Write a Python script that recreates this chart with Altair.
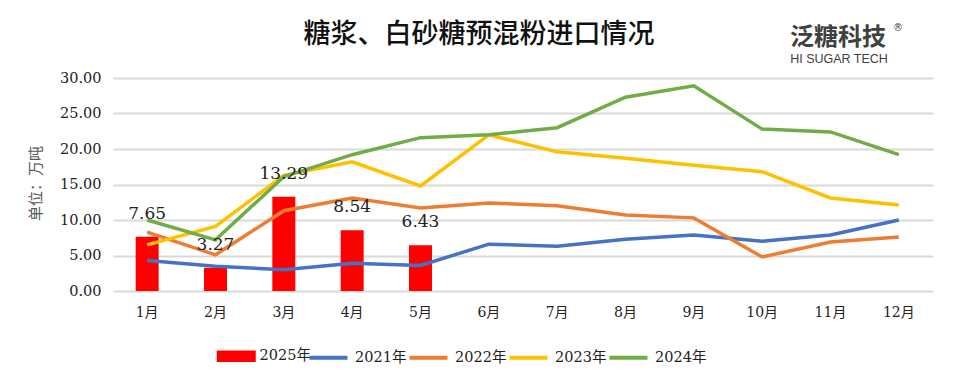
import altair as alt
import pandas as pd

months = ["1月", "2月", "3月", "4月", "5月", "6月", "7月", "8月", "9月", "10月", "11月", "12月"]
bar_series = "2025年"
bar_values = [7.65, 3.27, 13.29, 8.54, 6.43]
line_series = ["2021年", "2022年", "2023年", "2024年"]
v2021 = [4.3, 3.5, 3.0, 3.9, 3.6, 6.6, 6.3, 7.3, 7.9, 7.0, 7.9, 10.0]
v2022 = [8.3, 5.1, 11.3, 13.1, 11.7, 12.4, 12.0, 10.7, 10.3, 4.8, 6.9, 7.6]
v2023 = [6.5, 9.1, 16.3, 18.2, 14.8, 22.0, 19.6, 18.7, 17.7, 16.8, 13.1, 12.1]
v2024 = [10.0, 7.2, 16.1, 19.2, 21.6, 22.0, 23.0, 27.3, 28.9, 22.8, 22.4, 19.2]
line_colors = ["#4472C4", "#ED7D31", "#FFC000", "#70AD47"]
y_ticks = [0, 5, 10, 15, 20, 25, 30]
title_text = "糖浆、白砂糖预混粉进口情况"
logo_cn = "泛糖科技"
logo_en = "HI SUGAR TECH"
y_title = "单位：万吨"

W, H = 820, 213
SERIF = "'DejaVu Serif', 'Noto Sans CJK SC', serif"

bar_df = pd.DataFrame({"month": months[:len(bar_values)], "value": bar_values,
                       "series": [bar_series] * len(bar_values)})
rows = []
for name, vals in zip(line_series, [v2021, v2022, v2023, v2024]):
    for m, v in zip(months, vals):
        rows.append({"month": m, "value": v, "series": name})
line_df = pd.DataFrame(rows)

x_axis = alt.Axis(title=None, labelAngle=0, labelFont=SERIF, labelFontSize=14, labelColor="#222",
                  labelPadding=14, grid=False)
x_scale = alt.Scale(domain=months, paddingInner=0, paddingOuter=0)
y_scale = alt.Scale(domain=[0, 30], nice=False)
y_axis = alt.Axis(title=y_title, format=".2f", values=y_ticks, labelOverlap=False,
                  grid=True, gridColor="#d9d9d9", gridWidth=2,
                  labelFont=SERIF, labelFontSize=14.5, labelColor="#222", labelPadding=12,
                  titleFont="Noto Sans CJK SC", titleFontSize=15, titleFontWeight="normal",
                  titleColor="#595959", titleX=-78, titleY=105, titleAngle=270, titleAlign="center",
                  titleBaseline="middle")


def xe():
    return alt.X("month:N", sort=months, scale=x_scale, axis=x_axis)


def ye():
    return alt.Y("value:Q", scale=y_scale, axis=y_axis)


bars = alt.Chart(bar_df).mark_bar(size=23, color="#FF0000").encode(
    x=xe(),
    y=ye(),
    color=alt.Color("series:N", scale=alt.Scale(domain=[bar_series], range=["#FF0000"]),
                    legend=alt.Legend(title=None, orient="none", legendX=116, legendY=271,
                                      symbolType="M-3,-0.9H3V0.9H-3Z", symbolSize=169,
                                      symbolStrokeWidth=0, symbolOpacity=1,
                                      labelFont=SERIF, labelFontSize=14.5, labelColor="#222",
                                      labelOffset=16)),
)

bar_labels = alt.Chart(bar_df).mark_text(dy=-23, font=SERIF, fontSize=17, color="#222").encode(
    x=xe(),
    y=ye(),
    text=alt.Text("value:Q", format=".2f"))

lines = alt.Chart(line_df).mark_line(strokeWidth=3.5).encode(
    x=xe(),
    y=ye(),
    color=alt.Color("series:N", scale=alt.Scale(domain=line_series, range=line_colors),
                    legend=alt.Legend(title=None, orient="none", legendX=204, legendY=268,
                                      direction="horizontal", columns=4,
                                      symbolType="M-2,0H2", symbolSize=361, symbolStrokeWidth=4,
                                      columnPadding=-6,
                                      labelFont=SERIF, labelFontSize=14.5, labelColor="#222",
                                      labelOffset=15)),
)

title = alt.Chart(pd.DataFrame({"t": [title_text]})).mark_text(
    font="Noto Sans CJK SC", fontSize=27, fontWeight=500, color="#111", align="center", baseline="middle"
).encode(x=alt.value(366), y=alt.value(-43), text="t:N")

logo1 = alt.Chart(pd.DataFrame({"t": [logo_cn]})).mark_text(
    font="Noto Sans CJK SC", fontSize=24, fontWeight="bold", color="#404040", align="center", baseline="middle"
).encode(x=alt.value(725), y=alt.value(-40), text="t:N")
logo_r = alt.Chart(pd.DataFrame({"t": ["®"]})).mark_text(
    font="DejaVu Sans", fontSize=10, color="#404040", align="center", baseline="middle"
).encode(x=alt.value(785), y=alt.value(-50), text="t:N")
logo2 = alt.Chart(pd.DataFrame({"t": [logo_en]})).mark_text(
    font="Liberation Sans", fontSize=12.5, color="#404040", align="center", baseline="middle"
).encode(x=alt.value(726), y=alt.value(-19), text="t:N")

chart = alt.layer(bars, lines, bar_labels, title, logo1, logo_r, logo2).resolve_scale(
    color="independent"
).properties(
    width=W, height=H,
    background="white",
    padding={"left": 105, "top": 70, "right": 10, "bottom": 80},
    autosize=alt.AutoSizeParams(type="none"),
).configure_view(strokeWidth=0, stroke="transparent").configure_axis(
    domain=False, ticks=False, domainOpacity=0, tickOpacity=0
)

chart.save("out.html", embed_options={"renderer": "svg", "actions": False})
